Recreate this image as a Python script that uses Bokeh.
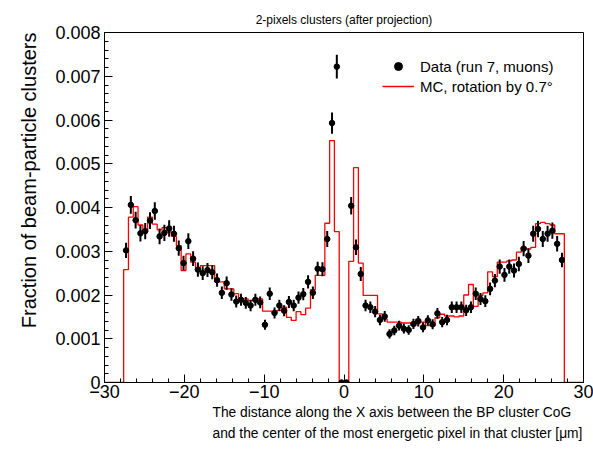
import numpy as np
from bokeh.plotting import figure
from bokeh.models import FixedTicker, Title, Legend, LegendItem, ColumnDataSource, Range1d
from bokeh.embed import file_html
from bokeh.resources import INLINE

# histogram definition
x_min = -30.0
bin_width = 0.6
n_bins = 100
left_start = 4      # first filled bin on negative side (edge -27.6)
right_start = 51    # first filled bin on positive side (edge +0.6)
n_entries = 100000  # used for statistical error bars

# Data (run 7, muons), bins from -27.6 to -0.6
data_left = [0.00302, 0.00406, 0.00371, 0.00341, 0.00346, 0.00370, 0.00392, 0.00334, 0.00342,
             0.00352, 0.00340, 0.00307, 0.00273, 0.00323, 0.00283, 0.00258, 0.00250, 0.00257,
             0.00252, 0.00234, 0.00205, 0.00227, 0.00201, 0.00185, 0.00189, 0.00182, 0.00176,
             0.00189, 0.00183, 0.00132, 0.00203, 0.00159, 0.00176, 0.00164, 0.00184, 0.00176,
             0.00194, 0.00202, 0.00230, 0.00205, 0.00260, 0.00259, 0.00328, 0.00593, 0.00722]
data_center = [0.0, 0.0]
# Data, bins from 0.6 to 27.6
data_right = [0.00404, 0.00309, 0.00248, 0.00176, 0.00172, 0.00162, 0.00143, 0.00151, 0.00111,
              0.00119, 0.00130, 0.00123, 0.00120, 0.00134, 0.00140, 0.00126, 0.00142, 0.00133,
              0.00158, 0.00138, 0.00143, 0.00172, 0.00172, 0.00172, 0.00165, 0.00172, 0.00203,
              0.00191, 0.00186, 0.00214, 0.00233, 0.00265, 0.00246, 0.00265, 0.00256, 0.00271,
              0.00306, 0.00290, 0.00340, 0.00351, 0.00328, 0.00340, 0.00347, 0.00317, 0.00280]

# MC, rotation by 0.7 deg
mc_left = [0.00258, 0.00378, 0.00402, 0.00360, 0.00345, 0.00378, 0.00362, 0.00349, 0.00354,
           0.00344, 0.00334, 0.00313, 0.00256, 0.00294, 0.00275, 0.00256, 0.00267, 0.00267,
           0.00267, 0.00230, 0.00230, 0.00214, 0.00214, 0.00203, 0.00191, 0.00191, 0.00187,
           0.00191, 0.00191, 0.00163, 0.00163, 0.00160, 0.00165, 0.00172, 0.00149, 0.00142,
           0.00162, 0.00155, 0.00170, 0.00212, 0.00245, 0.00245, 0.00364, 0.00553, 0.00345]
mc_right = [0.00277, 0.00491, 0.00273, 0.00199, 0.00199, 0.00199, 0.00157, 0.00145, 0.00138,
            0.00138, 0.00138, 0.00136, 0.00136, 0.00130, 0.00145, 0.00138, 0.00130, 0.00130,
            0.00148, 0.00156, 0.00152, 0.00152, 0.00150, 0.00152, 0.00200, 0.00224, 0.00174,
            0.00199, 0.00205, 0.00253, 0.00242, 0.00275, 0.00275, 0.00278, 0.00280, 0.00298,
            0.00309, 0.00305, 0.00309, 0.00363, 0.00366, 0.00363, 0.00360, 0.00340, 0.00340]

x_ticks = [-30, -20, -10, 0, 10, 20, 30]
x_tick_labels = ["\u221230", "\u221220", "\u221210", "0", "10", "20", "30"]
y_ticks = [0, 0.001, 0.002, 0.003, 0.004, 0.005, 0.006, 0.007, 0.008]
y_tick_labels = ["0", "0.001", "0.002", "0.003", "0.004", "0.005", "0.006", "0.007", "0.008"]

FONT = "Liberation Sans"

# ---- build histogram arrays ----
edges = x_min + bin_width * np.arange(n_bins + 1)
centers = edges[:-1] + bin_width / 2
mc_full = np.zeros(n_bins)
mc_full[left_start:left_start + len(mc_left)] = mc_left
mc_full[right_start:right_start + len(mc_right)] = mc_right

d_vals = np.array(data_left + data_center + data_right)
d_x = centers[left_start:left_start + len(d_vals)]
d_err = np.sqrt(d_vals / n_entries)
src = ColumnDataSource(dict(x=d_x, y=d_vals, lo=d_vals - d_err, hi=d_vals + d_err,
                            xl=d_x - bin_width / 2, xr=d_x + bin_width / 2))

p = figure(width=593, height=449, output_backend="svg", toolbar_location=None,
           x_range=Range1d(-30, 30), y_range=Range1d(0, 0.008),
           min_border_left=104, min_border_right=10, min_border_top=32, min_border_bottom=67)
p.background_fill_color = "white"
p.border_fill_color = "white"
p.outline_line_color = "black"
p.outline_line_width = 1
p.grid.visible = False

p.title.text = "2-pixels clusters (after projection)"
p.title.align = "center"
p.title.text_font = FONT
p.title.text_font_size = "12px"
p.title.text_font_style = "normal"
p.title.text_color = "black"
p.title.standoff = 12

st = p.step(x=edges, y=np.append(mc_full, 0.0), mode="after", line_color="red", line_width=1.3)
p.segment(x0="x", y0="lo", x1="x", y1="hi", source=src, line_color="black", line_width=2)
p.segment(x0="xl", y0="y", x1="xr", y1="y", source=src, line_color="black", line_width=1.5)
sc = p.scatter(x="x", y="y", source=src, size=5.5, marker="circle", fill_color="black", line_color="black")

# axes
xa = p.xaxis[0]
xa.ticker = FixedTicker(ticks=x_ticks, minor_ticks=list(np.arange(-30, 31, 2)))
xa.major_label_overrides = {t: l for t, l in zip(x_ticks, x_tick_labels)}
ya = p.yaxis[0]
ya.ticker = FixedTicker(ticks=y_ticks, minor_ticks=[round(0.0002 * i, 4) for i in range(41)])
ya.major_label_overrides = {t: l for t, l in zip(y_ticks, y_tick_labels)}
for ax in (xa, ya):
    ax.major_tick_in = 8
    ax.major_tick_out = 0
    ax.minor_tick_in = 4
    ax.minor_tick_out = 0
    ax.major_label_text_font = FONT
    ax.major_label_text_font_size = "18px"
    ax.major_label_text_color = "black"
    ax.axis_line_color = "black"
    ax.major_tick_line_color = "black"
    ax.minor_tick_line_color = "black"
xa.major_label_standoff = 2
ya.major_label_standoff = 4

p.add_layout(Title(text="The distance along the X axis between the BP cluster CoG", align="left",
                   offset=108, text_font=FONT, text_font_size="13.8px", text_font_style="normal",
                   text_color="black", standoff=4), "below")
p.add_layout(Title(text="and the center of the most energetic pixel in that cluster [\u03bcm]", align="left",
                   offset=108, text_font=FONT, text_font_size="13.8px", text_font_style="normal",
                   text_color="black", standoff=5), "below")
p.add_layout(Title(text="Fraction of beam-particle clusters", align="right", standoff=26,
                   text_font=FONT, text_font_size="20px", text_font_style="normal",
                   text_color="black"), "left")

legend = Legend(items=[LegendItem(label="Data (run 7, muons)", renderers=[sc]),
                       LegendItem(label="MC, rotation by 0.7\u00b0", renderers=[st])],
                location=(278, 286), border_line_color=None, background_fill_alpha=0,
                label_text_font=FONT, label_text_font_size="15px", label_text_color="black",
                glyph_width=32, glyph_height=20,
                label_height=20, label_standoff=6, padding=0, margin=0, spacing=0)
p.add_layout(legend)

open("out.html", "w").write(file_html(p, INLINE))
